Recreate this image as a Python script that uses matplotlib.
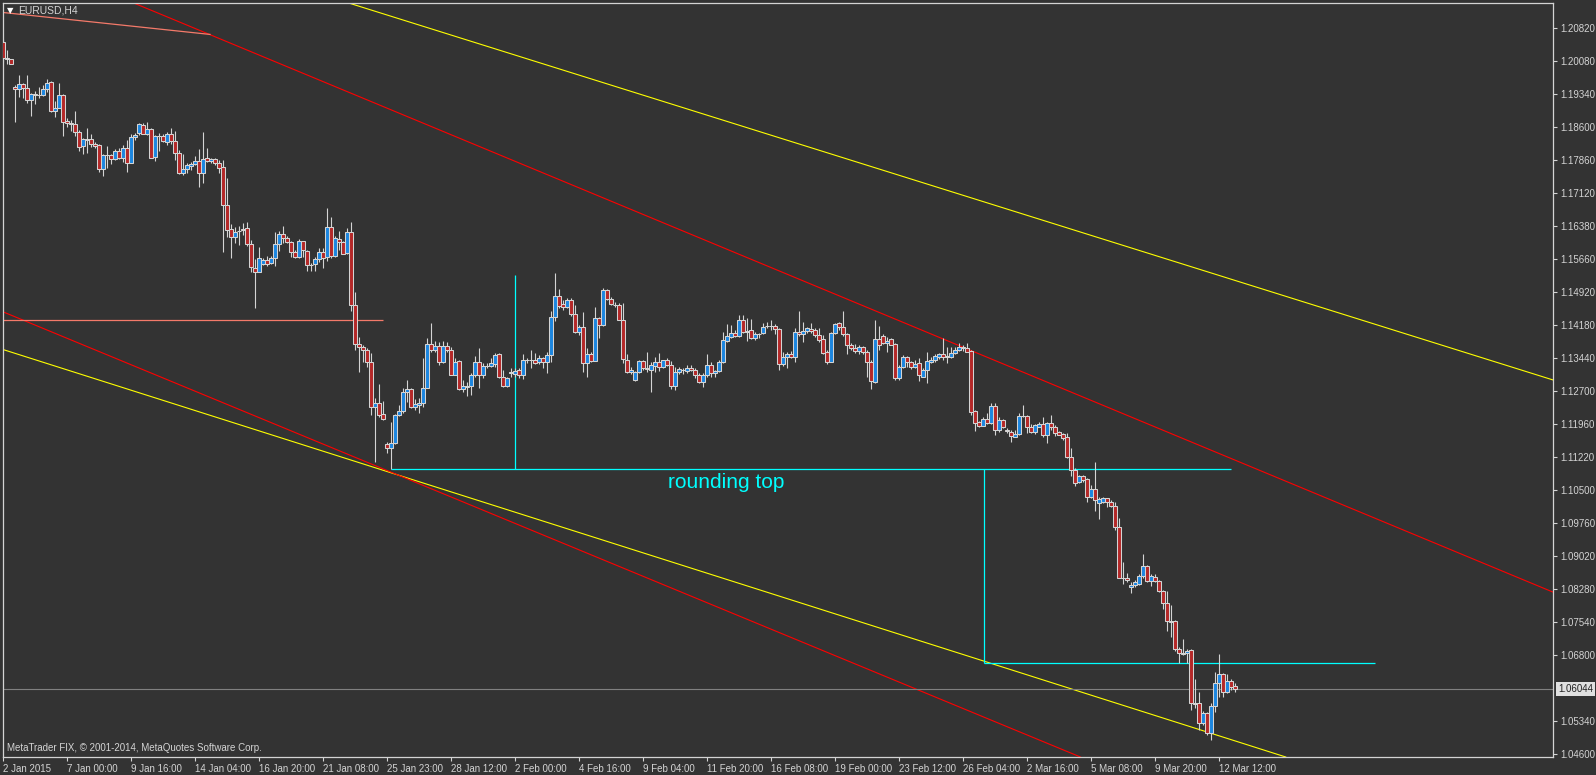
import numpy as np
import matplotlib.pyplot as plt
import matplotlib.transforms as mtransforms

# EURUSD H4 candles (open, high, low, close)
opens = [1.2049, 1.2014, 1.2011, 1.1949, 1.1944, 1.1956, 1.1947, 1.1920, 1.1934, 1.1932,
         1.1931, 1.1944, 1.1960, 1.1897, 1.1903, 1.1932, 1.1873, 1.1868, 1.1867, 1.1848,
         1.1818, 1.1833, 1.1833, 1.1822, 1.1819, 1.1767, 1.1797, 1.1797, 1.1789, 1.1806,
         1.1792, 1.1813, 1.1780, 1.1837, 1.1847, 1.1865, 1.1845, 1.1856, 1.1793, 1.1840,
         1.1840, 1.1827, 1.1845, 1.1828, 1.1802, 1.1758, 1.1766, 1.1774, 1.1777, 1.1784,
         1.1757, 1.1790, 1.1784, 1.1789, 1.1779, 1.1770, 1.1685, 1.1632, 1.1614, 1.1628,
         1.1632, 1.1634, 1.1599, 1.1545, 1.1537, 1.1553, 1.1562, 1.1556, 1.1567, 1.1598,
         1.1620, 1.1613, 1.1603, 1.1581, 1.1570, 1.1605, 1.1583, 1.1552, 1.1553, 1.1565,
         1.1580, 1.1569, 1.1637, 1.1571, 1.1611, 1.1603, 1.1578, 1.1625, 1.1462, 1.1375,
         1.1368, 1.1361, 1.1334, 1.1234, 1.1243, 1.1219, 1.1151, 1.1144, 1.1154, 1.1216,
         1.1226, 1.1269, 1.1274, 1.1235, 1.1240, 1.1243, 1.1278, 1.1375, 1.1361, 1.1371,
         1.1334, 1.1371, 1.1361, 1.1307, 1.1337, 1.1274, 1.1281, 1.1281, 1.1305, 1.1334,
         1.1307, 1.1327, 1.1327, 1.1331, 1.1352, 1.1302, 1.1282, 1.1311, 1.1309, 1.1317,
         1.1305, 1.1339, 1.1340, 1.1339, 1.1334, 1.1343, 1.1336, 1.1351, 1.1435, 1.1482,
         1.1464, 1.1459, 1.1474, 1.1442, 1.1403, 1.1413, 1.1332, 1.1353, 1.1338, 1.1433,
         1.1418, 1.1496, 1.1476, 1.1463, 1.1462, 1.1430, 1.1339, 1.1312, 1.1295, 1.1312,
         1.1337, 1.1321, 1.1318, 1.1327, 1.1334, 1.1323, 1.1339, 1.1328, 1.1281, 1.1312,
         1.1318, 1.1314, 1.1322, 1.1317, 1.1305, 1.1291, 1.1305, 1.1328, 1.1310, 1.1315,
         1.1336, 1.1381, 1.1392, 1.1399, 1.1394, 1.1430, 1.1403, 1.1407, 1.1389, 1.1397,
         1.1399, 1.1415, 1.1416, 1.1415, 1.1409, 1.1330, 1.1346, 1.1352, 1.1347, 1.1403,
         1.1398, 1.1404, 1.1409, 1.1407, 1.1395, 1.1386, 1.1357, 1.1336, 1.1401, 1.1422,
         1.1413, 1.1397, 1.1373, 1.1366, 1.1360, 1.1369, 1.1358, 1.1334, 1.1291, 1.1386,
         1.1393, 1.1378, 1.1386, 1.1375, 1.1299, 1.1323, 1.1346, 1.1334, 1.1324, 1.1332,
         1.1302, 1.1318, 1.1334, 1.1340, 1.1347, 1.1353, 1.1348, 1.1346, 1.1355, 1.1363,
         1.1369, 1.1366, 1.1360, 1.1225, 1.1202, 1.1193, 1.1208, 1.1199, 1.1237, 1.1183,
         1.1206, 1.1183, 1.1179, 1.1168, 1.1174, 1.1215, 1.1214, 1.1191, 1.1178, 1.1191,
         1.1196, 1.1171, 1.1198, 1.1191, 1.1178, 1.1174, 1.1167, 1.1122, 1.1094, 1.1067,
         1.1080, 1.1073, 1.1034, 1.1051, 1.1021, 1.1022, 1.1031, 1.1022, 1.1013, 1.0967,
         1.0853, 1.0853, 1.0832, 1.0837, 1.0839, 1.0857, 1.0879, 1.0846, 1.0855, 1.0846,
         1.0823, 1.0796, 1.0757, 1.0757, 1.0695, 1.0684, 1.0684, 1.0692, 1.0573, 1.0573,
         1.0528, 1.0551, 1.0506, 1.0567, 1.0618, 1.0638, 1.0598, 1.0622, 1.0611]
highs = [1.2057, 1.2032, 1.2013, 1.1954, 1.1976, 1.1958, 1.1976, 1.1937, 1.1941, 1.1950,
         1.1954, 1.1967, 1.1963, 1.1918, 1.1958, 1.1933, 1.1880, 1.1876, 1.1896, 1.1853,
         1.1836, 1.1857, 1.1845, 1.1827, 1.1822, 1.1799, 1.1818, 1.1799, 1.1811, 1.1813,
         1.1820, 1.1830, 1.1845, 1.1846, 1.1870, 1.1868, 1.1871, 1.1857, 1.1842, 1.1846,
         1.1845, 1.1848, 1.1857, 1.1851, 1.1809, 1.1800, 1.1780, 1.1783, 1.1795, 1.1811,
         1.1848, 1.1813, 1.1792, 1.1791, 1.1786, 1.1786, 1.1746, 1.1644, 1.1637, 1.1639,
         1.1646, 1.1648, 1.1608, 1.1565, 1.1591, 1.1568, 1.1573, 1.1572, 1.1626, 1.1628,
         1.1638, 1.1617, 1.1606, 1.1585, 1.1609, 1.1606, 1.1585, 1.1557, 1.1569, 1.1589,
         1.1590, 1.1679, 1.1658, 1.1616, 1.1628, 1.1606, 1.1634, 1.1647, 1.1491, 1.1391,
         1.1373, 1.1366, 1.1355, 1.1255, 1.1287, 1.1248, 1.1157, 1.1200, 1.1218, 1.1239,
         1.1276, 1.1295, 1.1276, 1.1252, 1.1254, 1.1345, 1.1388, 1.1423, 1.1382, 1.1380,
         1.1382, 1.1380, 1.1369, 1.1343, 1.1340, 1.1295, 1.1291, 1.1311, 1.1349, 1.1366,
         1.1332, 1.1332, 1.1343, 1.1355, 1.1355, 1.1317, 1.1302, 1.1321, 1.1321, 1.1321,
         1.1352, 1.1343, 1.1362, 1.1355, 1.1351, 1.1347, 1.1358, 1.1448, 1.1533, 1.1498,
         1.1474, 1.1477, 1.1477, 1.1462, 1.1418, 1.1446, 1.1366, 1.1358, 1.1457, 1.1436,
         1.1500, 1.1498, 1.1481, 1.1470, 1.1468, 1.1466, 1.1353, 1.1325, 1.1315, 1.1340,
         1.1340, 1.1358, 1.1336, 1.1347, 1.1355, 1.1340, 1.1343, 1.1337, 1.1325, 1.1325,
         1.1321, 1.1328, 1.1328, 1.1321, 1.1310, 1.1310, 1.1352, 1.1336, 1.1317, 1.1340,
         1.1403, 1.1421, 1.1418, 1.1407, 1.1440, 1.1440, 1.1433, 1.1431, 1.1403, 1.1401,
         1.1422, 1.1425, 1.1429, 1.1419, 1.1412, 1.1358, 1.1357, 1.1360, 1.1410, 1.1449,
         1.1424, 1.1414, 1.1422, 1.1410, 1.1410, 1.1396, 1.1362, 1.1403, 1.1422, 1.1425,
         1.1449, 1.1401, 1.1378, 1.1375, 1.1373, 1.1371, 1.1362, 1.1339, 1.1429, 1.1416,
         1.1397, 1.1392, 1.1388, 1.1377, 1.1328, 1.1351, 1.1349, 1.1337, 1.1340, 1.1343,
         1.1322, 1.1357, 1.1347, 1.1352, 1.1356, 1.1388, 1.1369, 1.1369, 1.1369, 1.1377,
         1.1373, 1.1378, 1.1362, 1.1228, 1.1203, 1.1213, 1.1221, 1.1243, 1.1244, 1.1212,
         1.1207, 1.1187, 1.1183, 1.1183, 1.1221, 1.1239, 1.1217, 1.1196, 1.1196, 1.1200,
         1.1212, 1.1200, 1.1216, 1.1194, 1.1181, 1.1177, 1.1177, 1.1142, 1.1098, 1.1083,
         1.1083, 1.1075, 1.1060, 1.1112, 1.1034, 1.1034, 1.1032, 1.1027, 1.1023, 1.0986,
         1.0889, 1.0863, 1.0843, 1.0848, 1.0861, 1.0906, 1.0882, 1.0861, 1.0861, 1.0848,
         1.0826, 1.0823, 1.0792, 1.0759, 1.0699, 1.0716, 1.0695, 1.0694, 1.0627, 1.0598,
         1.0555, 1.0553, 1.0573, 1.0643, 1.0683, 1.0640, 1.0638, 1.0627, 1.0618]
lows = [1.2006, 1.2002, 1.2000, 1.1872, 1.1928, 1.1924, 1.1913, 1.1885, 1.1911, 1.1926,
        1.1929, 1.1939, 1.1894, 1.1883, 1.1902, 1.1841, 1.1861, 1.1851, 1.1839, 1.1807,
        1.1800, 1.1803, 1.1816, 1.1814, 1.1760, 1.1751, 1.1769, 1.1778, 1.1786, 1.1789,
        1.1781, 1.1760, 1.1780, 1.1831, 1.1842, 1.1844, 1.1842, 1.1790, 1.1784, 1.1807,
        1.1827, 1.1820, 1.1822, 1.1787, 1.1755, 1.1754, 1.1757, 1.1763, 1.1775, 1.1725,
        1.1736, 1.1781, 1.1780, 1.1775, 1.1758, 1.1581, 1.1614, 1.1568, 1.1601, 1.1597,
        1.1619, 1.1594, 1.1536, 1.1456, 1.1536, 1.1552, 1.1550, 1.1553, 1.1550, 1.1583,
        1.1600, 1.1600, 1.1570, 1.1567, 1.1567, 1.1570, 1.1539, 1.1539, 1.1539, 1.1559,
        1.1546, 1.1561, 1.1568, 1.1569, 1.1585, 1.1576, 1.1576, 1.1449, 1.1362, 1.1313,
        1.1336, 1.1325, 1.1217, 1.1112, 1.1213, 1.1206, 1.1131, 1.1096, 1.1152, 1.1214,
        1.1221, 1.1246, 1.1232, 1.1228, 1.1222, 1.1235, 1.1276, 1.1358, 1.1358, 1.1328,
        1.1332, 1.1358, 1.1305, 1.1305, 1.1273, 1.1269, 1.1260, 1.1261, 1.1302, 1.1276,
        1.1300, 1.1322, 1.1325, 1.1325, 1.1299, 1.1280, 1.1280, 1.1302, 1.1302, 1.1299,
        1.1297, 1.1332, 1.1321, 1.1330, 1.1331, 1.1321, 1.1310, 1.1336, 1.1427, 1.1455,
        1.1451, 1.1455, 1.1439, 1.1401, 1.1395, 1.1313, 1.1302, 1.1336, 1.1337, 1.1389,
        1.1416, 1.1474, 1.1462, 1.1459, 1.1429, 1.1332, 1.1310, 1.1308, 1.1293, 1.1310,
        1.1317, 1.1312, 1.1269, 1.1313, 1.1316, 1.1321, 1.1326, 1.1275, 1.1273, 1.1309,
        1.1309, 1.1310, 1.1315, 1.1299, 1.1288, 1.1280, 1.1302, 1.1302, 1.1302, 1.1313,
        1.1332, 1.1379, 1.1388, 1.1391, 1.1392, 1.1401, 1.1381, 1.1386, 1.1384, 1.1389,
        1.1397, 1.1410, 1.1407, 1.1397, 1.1317, 1.1327, 1.1321, 1.1343, 1.1336, 1.1394,
        1.1379, 1.1401, 1.1401, 1.1392, 1.1379, 1.1354, 1.1330, 1.1334, 1.1397, 1.1407,
        1.1394, 1.1353, 1.1362, 1.1355, 1.1352, 1.1354, 1.1302, 1.1275, 1.1288, 1.1362,
        1.1375, 1.1358, 1.1372, 1.1296, 1.1296, 1.1321, 1.1323, 1.1319, 1.1321, 1.1293,
        1.1301, 1.1288, 1.1332, 1.1336, 1.1341, 1.1340, 1.1332, 1.1343, 1.1352, 1.1360,
        1.1360, 1.1357, 1.1217, 1.1181, 1.1191, 1.1192, 1.1197, 1.1197, 1.1172, 1.1179,
        1.1187, 1.1177, 1.1157, 1.1167, 1.1172, 1.1212, 1.1176, 1.1176, 1.1174, 1.1189,
        1.1168, 1.1154, 1.1183, 1.1170, 1.1171, 1.1161, 1.1120, 1.1081, 1.1059, 1.1065,
        1.1068, 1.1023, 1.1031, 1.1003, 1.0985, 1.1019, 1.1012, 1.1012, 1.0960, 1.0852,
        1.0839, 1.0844, 1.0820, 1.0833, 1.0837, 1.0852, 1.0843, 1.0835, 1.0843, 1.0821,
        1.0783, 1.0733, 1.0720, 1.0690, 1.0662, 1.0680, 1.0662, 1.0558, 1.0562, 1.0513,
        1.0524, 1.0502, 1.0491, 1.0553, 1.0587, 1.0587, 1.0596, 1.0602, 1.0598]
closes = [1.2014, 1.2012, 1.2002, 1.1946, 1.1956, 1.1947, 1.1920, 1.1934, 1.1932, 1.1931,
          1.1944, 1.1958, 1.1896, 1.1903, 1.1931, 1.1872, 1.1868, 1.1867, 1.1848, 1.1816,
          1.1833, 1.1832, 1.1822, 1.1818, 1.1767, 1.1797, 1.1798, 1.1788, 1.1806, 1.1792,
          1.1813, 1.1780, 1.1837, 1.1842, 1.1867, 1.1845, 1.1856, 1.1792, 1.1840, 1.1839,
          1.1828, 1.1845, 1.1828, 1.1801, 1.1758, 1.1766, 1.1775, 1.1778, 1.1784, 1.1757,
          1.1788, 1.1784, 1.1789, 1.1779, 1.1769, 1.1685, 1.1629, 1.1614, 1.1626, 1.1627,
          1.1631, 1.1599, 1.1547, 1.1536, 1.1567, 1.1562, 1.1555, 1.1567, 1.1598, 1.1620,
          1.1613, 1.1603, 1.1580, 1.1570, 1.1605, 1.1585, 1.1552, 1.1551, 1.1565, 1.1580,
          1.1568, 1.1637, 1.1571, 1.1612, 1.1603, 1.1577, 1.1625, 1.1462, 1.1375, 1.1368,
          1.1361, 1.1334, 1.1234, 1.1243, 1.1217, 1.1207, 1.1142, 1.1154, 1.1216, 1.1226,
          1.1269, 1.1274, 1.1235, 1.1241, 1.1243, 1.1278, 1.1375, 1.1361, 1.1371, 1.1334,
          1.1371, 1.1361, 1.1307, 1.1334, 1.1274, 1.1281, 1.1280, 1.1305, 1.1334, 1.1307,
          1.1327, 1.1326, 1.1332, 1.1351, 1.1302, 1.1282, 1.1299, 1.1313, 1.1316, 1.1305,
          1.1339, 1.1340, 1.1339, 1.1333, 1.1343, 1.1336, 1.1351, 1.1435, 1.1482, 1.1461,
          1.1459, 1.1474, 1.1442, 1.1403, 1.1413, 1.1332, 1.1353, 1.1338, 1.1433, 1.1418,
          1.1496, 1.1476, 1.1464, 1.1462, 1.1430, 1.1341, 1.1312, 1.1318, 1.1312, 1.1337,
          1.1321, 1.1320, 1.1328, 1.1334, 1.1323, 1.1339, 1.1328, 1.1281, 1.1313, 1.1319,
          1.1317, 1.1322, 1.1317, 1.1305, 1.1291, 1.1305, 1.1328, 1.1310, 1.1315, 1.1336,
          1.1384, 1.1393, 1.1399, 1.1394, 1.1428, 1.1403, 1.1405, 1.1388, 1.1397, 1.1398,
          1.1413, 1.1416, 1.1415, 1.1408, 1.1330, 1.1346, 1.1352, 1.1347, 1.1403, 1.1397,
          1.1404, 1.1410, 1.1404, 1.1395, 1.1385, 1.1356, 1.1336, 1.1401, 1.1419, 1.1413,
          1.1397, 1.1373, 1.1366, 1.1360, 1.1369, 1.1358, 1.1334, 1.1293, 1.1386, 1.1374,
          1.1378, 1.1383, 1.1373, 1.1299, 1.1323, 1.1346, 1.1334, 1.1324, 1.1331, 1.1305,
          1.1318, 1.1337, 1.1340, 1.1348, 1.1353, 1.1347, 1.1347, 1.1355, 1.1363, 1.1369,
          1.1366, 1.1358, 1.1224, 1.1199, 1.1193, 1.1208, 1.1199, 1.1236, 1.1183, 1.1206,
          1.1189, 1.1182, 1.1170, 1.1174, 1.1215, 1.1214, 1.1191, 1.1178, 1.1194, 1.1197,
          1.1171, 1.1198, 1.1191, 1.1177, 1.1173, 1.1166, 1.1122, 1.1094, 1.1065, 1.1080,
          1.1072, 1.1034, 1.1051, 1.1027, 1.1029, 1.1031, 1.1022, 1.1014, 1.0967, 1.0853,
          1.0852, 1.0847, 1.0837, 1.0844, 1.0857, 1.0879, 1.0845, 1.0857, 1.0845, 1.0823,
          1.0796, 1.0757, 1.0755, 1.0694, 1.0684, 1.0683, 1.0690, 1.0573, 1.0571, 1.0528,
          1.0551, 1.0506, 1.0567, 1.0618, 1.0638, 1.0598, 1.0622, 1.0609, 1.0604]

# axis labels
x_labels = ["2 Jan 2015", "7 Jan 00:00", "9 Jan 16:00", "14 Jan 04:00", "16 Jan 20:00",
            "21 Jan 08:00", "25 Jan 23:00", "28 Jan 12:00", "2 Feb 00:00", "4 Feb 16:00",
            "9 Feb 04:00", "11 Feb 20:00", "16 Feb 08:00", "19 Feb 00:00", "23 Feb 12:00",
            "26 Feb 04:00", "2 Mar 16:00", "5 Mar 08:00", "9 Mar 20:00", "12 Mar 12:00"]
x_label_bars = list(range(0, 16 * len(x_labels), 16))
y_ticks = [1.04600, 1.05340, 1.06800, 1.07540, 1.08280, 1.09020, 1.09760, 1.10500,
           1.11220, 1.11960, 1.12700, 1.13440, 1.14180, 1.14920, 1.15660, 1.16380,
           1.17120, 1.17860, 1.18600, 1.19340, 1.20080, 1.20820]
last_price = 1.06044

# drawn objects (bar index, price)
yellow_upper = [(86.5, 1.2137), (387.5, 1.1295)]
yellow_lower = [(0.0, 1.1363), (298.0, 1.0517)]
red_upper = [(33.0, 1.2136), (387.5, 1.0821)]
red_lower = [(-0.75, 1.1450), (269.25, 1.0453)]
salmon_top = [(0.0, 1.2116), (51.75, 1.2067)]
salmon_level = (1.1428, -1, 95)
cyan_neck = (1.1096, 97, 307)
cyan_target = (1.0663, 245.2, 343)
cyan_v1 = (128.1, 1.1096, 1.1530)
cyan_v2 = (245.2, 1.0663, 1.1096)

bg = "#333333"
fg = "#d4d4d4"
font = ["Liberation Sans", "DejaVu Sans"]

fig = plt.figure(figsize=(15.96, 7.75), dpi=100, facecolor=bg)
ax = fig.add_axes([2.5 / 1596, 18 / 775, 1550.5 / 1596, 754 / 775], facecolor=bg)

o = np.array(opens)
h = np.array(highs)
l = np.array(lows)
c = np.array(closes)
x = np.arange(len(c))

# trend lines behind the candles
for pts, col in [(yellow_upper, "#ffff00"), (yellow_lower, "#ffff00"),
                 (red_upper, "#ff0000"), (red_lower, "#ff0000")]:
    ax.axline(pts[0], pts[1], color=col, lw=0.8, zorder=1)
ax.plot([p[0] for p in salmon_top], [p[1] for p in salmon_top], color="#f47a6a", lw=0.9, zorder=1)
ax.hlines(salmon_level[0], salmon_level[1], salmon_level[2], color="#f47a6a", lw=0.9, zorder=1)
ax.hlines(cyan_neck[0], cyan_neck[1], cyan_neck[2], color="#00ffff", lw=0.9, zorder=1)
ax.hlines(cyan_target[0], cyan_target[1], cyan_target[2], color="#00ffff", lw=0.9, zorder=1)
ax.vlines(cyan_v1[0], cyan_v1[1], cyan_v1[2], color="#00ffff", lw=0.9, zorder=1)
ax.vlines(cyan_v2[0], cyan_v2[1], cyan_v2[2], color="#00ffff", lw=0.9, zorder=1)
ax.axhline(last_price, color="#808080", lw=0.8, zorder=1)

# candles
ax.vlines(x, l, h, color=fg, lw=0.8, zorder=2)
up = c >= o
ax.bar(x, c - o, bottom=o, width=0.8, color=np.where(up, "#1c86e0", "#b42828"),
       edgecolor=fg, linewidth=0.75, zorder=3)

ax.text(180.75, 1.1065, "rounding top", color="#00ffff", fontsize=15, family=font,
        ha="center", va="center")

ax.set_xlim(-0.125, 387.5)
ax.set_ylim(1.04526, 1.21372)

ax.yaxis.tick_right()
ax.set_yticks(y_ticks)
ax.set_yticklabels([f"{v:.5f}" for v in y_ticks])
ax.set_xticks(x_label_bars)
ax.set_xticklabels(x_labels, ha="left")
ax.tick_params(colors=fg, labelcolor=fg, labelsize=7, length=3, width=0.8, pad=2)
for lab in ax.get_xticklabels() + ax.get_yticklabels():
    lab.set_family(font)
for s in ax.spines.values():
    s.set_color(fg)
    s.set_linewidth(0.9)

# current price box
trans = mtransforms.blended_transform_factory(ax.transAxes, ax.transData)
ax.text(1.0, last_price, "1.06044", transform=mtransforms.offset_copy(trans, fig, x=5, y=0, units="dots"),
        color="#222222", fontsize=7, family=font, ha="left", va="center", clip_on=False,
        bbox=dict(boxstyle="square,pad=0.25", fc="#e0e0e0", ec="none"))

# chart header and footer
ax.text(0.0029, 0.990, "\u25bc", transform=ax.transAxes, color="#ffffff", fontsize=6,
        family="DejaVu Sans", va="center", ha="left")
ax.text(0.0100, 0.9905, "EURUSD,H4", transform=ax.transAxes, color=fg, fontsize=7.5,
        family=font, va="center", ha="left")
ax.text(0.003, 0.012, "MetaTrader FIX, \u00a9 2001-2014, MetaQuotes Software Corp.",
        transform=ax.transAxes, color=fg, fontsize=7, family=font, va="center", ha="left")

fig.savefig("out.png", dpi=100, facecolor=bg)
